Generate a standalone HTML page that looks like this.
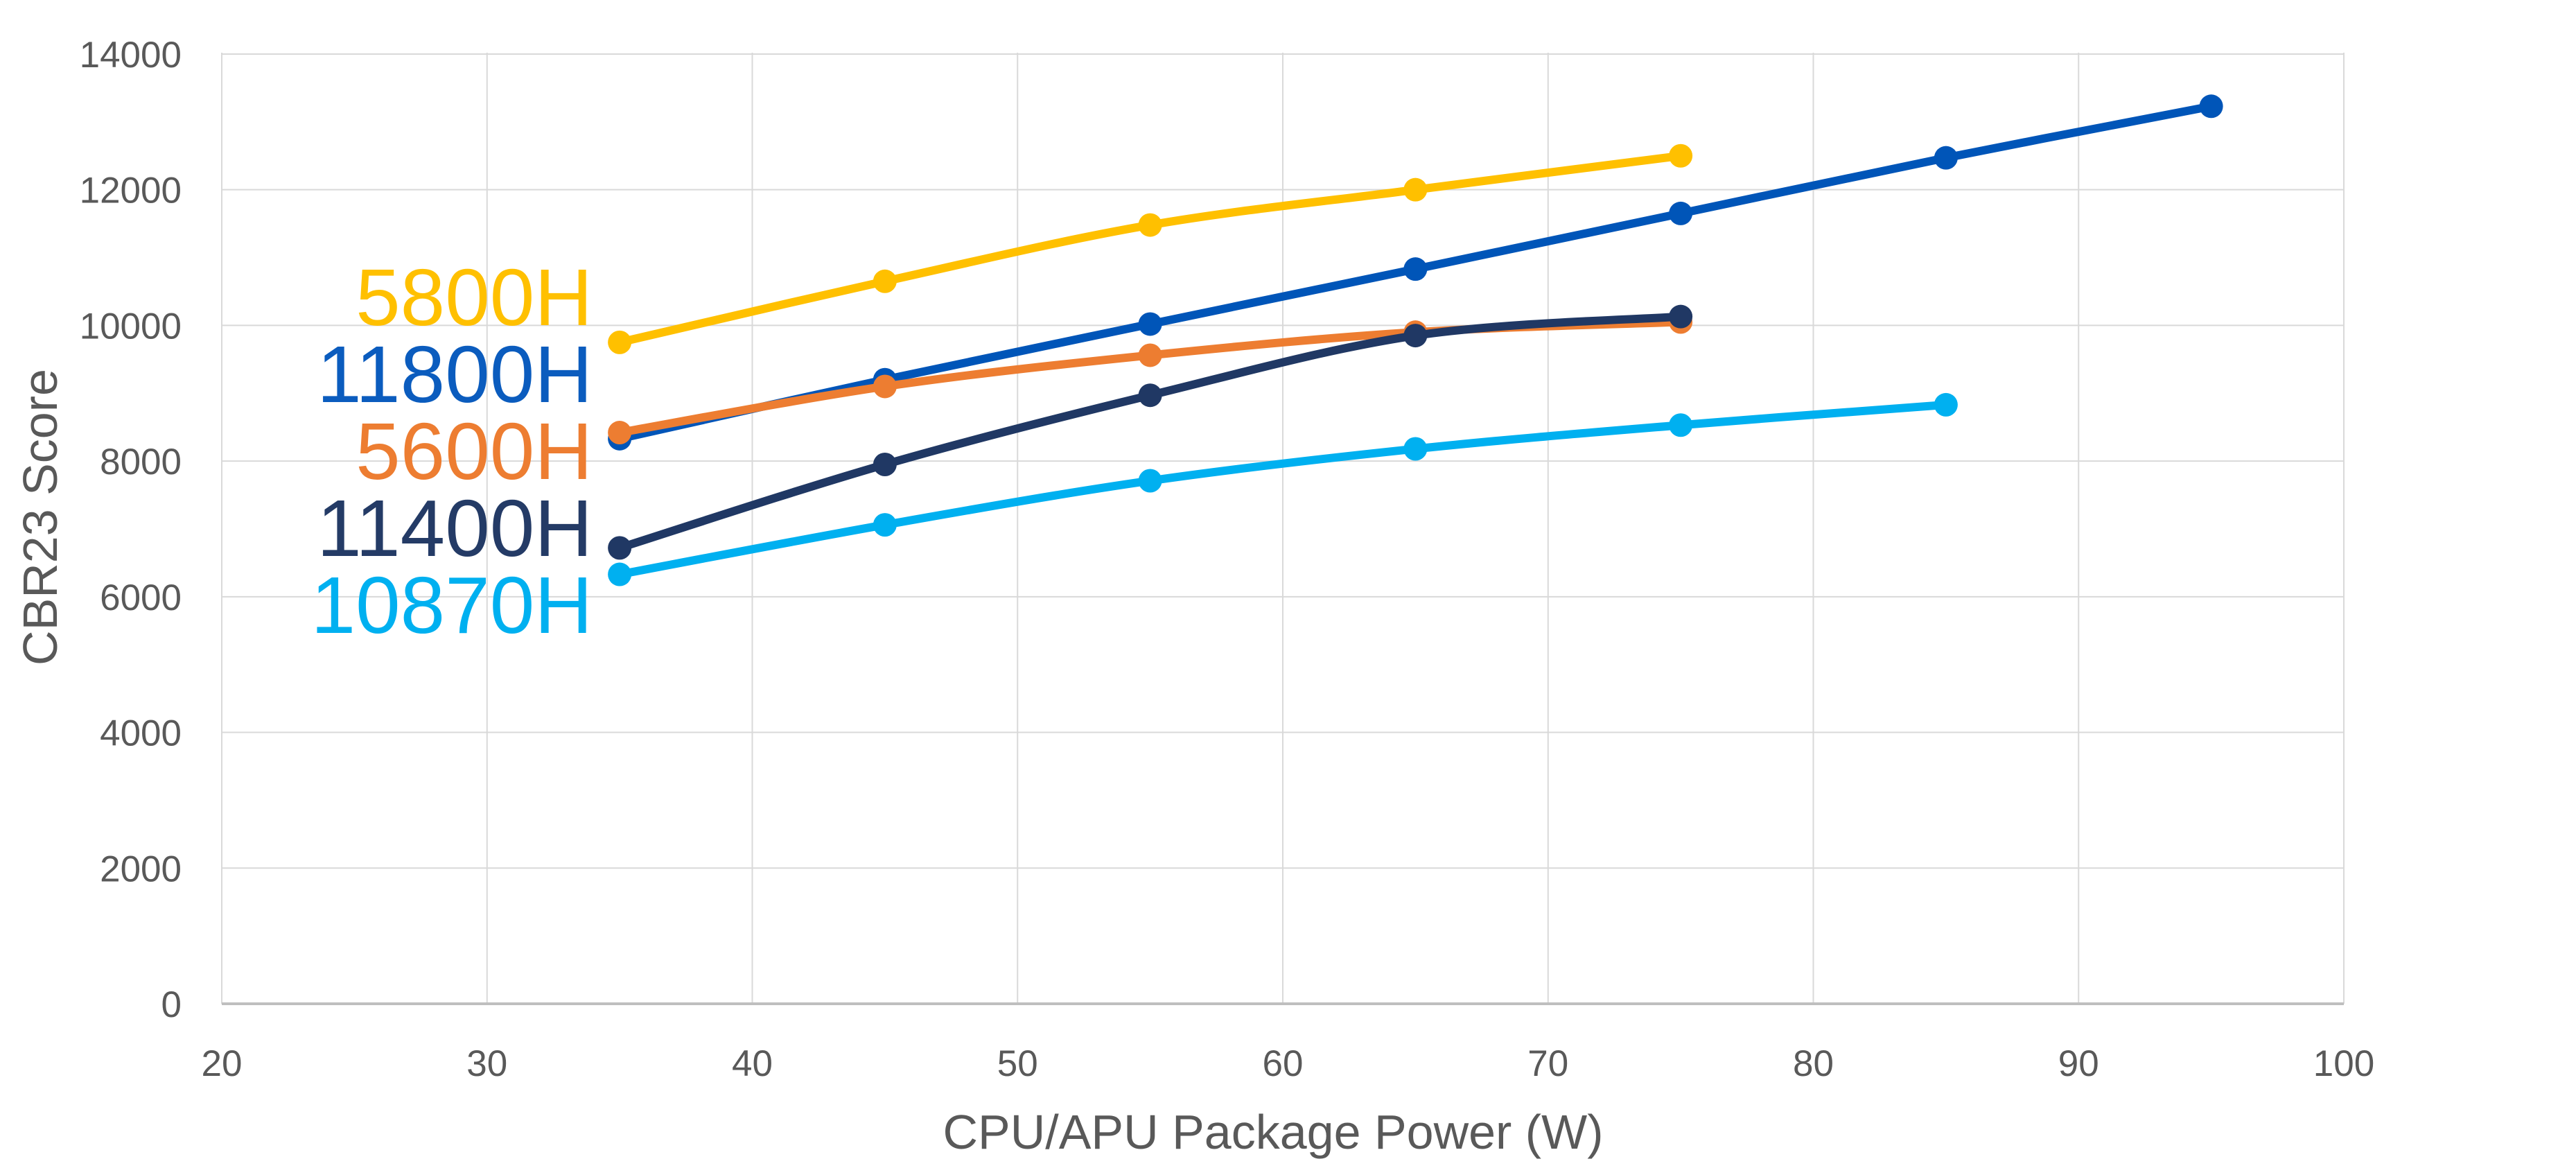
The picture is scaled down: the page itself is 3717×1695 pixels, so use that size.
<!DOCTYPE html>
<html><head><meta charset="utf-8"><style>
html,body{margin:0;padding:0;background:#fff;}
svg{display:block;}
</style></head><body>
<svg id="c" width="3717" height="1695" xmlns="http://www.w3.org/2000/svg" font-family="Liberation Sans, sans-serif">
<rect width="3717" height="1695" fill="#fff"/>
<g id="grid"></g>
<g id="series"></g>
<g font-size="53" fill="#595959" id="ticks"></g>
<text x="0" y="0" font-size="70" fill="#595959" text-anchor="middle" transform="translate(82,746) rotate(-90)">CBR23 Score</text>
<text x="1837" y="1657" font-size="70" fill="#595959" text-anchor="middle">CPU/APU Package Power (W)</text>
<g font-size="116" text-anchor="end">
<text x="855" y="469" fill="#FFC000">5800H</text>
<text x="855" y="580" fill="#0B5CBE">11800H</text>
<text x="855" y="691" fill="#ED7D31">5600H</text>
<text x="855" y="802" fill="#243B66">11400H</text>
<text x="855" y="913" fill="#00B0F0">10870H</text>
</g>
</svg>
<script>
var NS="http://www.w3.org/2000/svg";
function X(v){return 320+(v-20)*38.275;}
function Y(v){return 1448-v*0.09786;}
function el(t,a,p){var e=document.createElementNS(NS,t);for(var k in a)e.setAttribute(k,a[k]);p.appendChild(e);return e;}
var g=document.getElementById('grid'),tk=document.getElementById('ticks');
for(var v=0;v<=14000;v+=2000){
  if(v>0)el('line',{x1:320,x2:X(100),y1:Y(v),y2:Y(v),stroke:'#d9d9d9','stroke-width':2},g);
  var t=el('text',{x:262,y:Y(v)+19,'text-anchor':'end'},tk);t.textContent=v;
}
for(var x=20;x<=100;x+=10){
  el('line',{x1:X(x),x2:X(x),y1:76,y2:1448,stroke:'#d9d9d9','stroke-width':2},g);
  var t=el('text',{x:X(x),y:1552,'text-anchor':'middle'},tk);t.textContent=x;
}
el('line',{x1:320,x2:X(100),y1:1448,y2:1448,stroke:'#bfbfbf','stroke-width':4},g);
var S=[
 ['#0055B8',[[35,8330],[45,9200],[55,10020],[65,10830],[75,11650],[85,12470],[95,13230]]],
 ['#ED7D31',[[35,8420],[45,9100],[55,9560],[65,9900],[75,10050]]],
 ['#FFC000',[[35,9750],[45,10650],[55,11480],[65,12000],[75,12500]]],
 ['#203864',[[35,6720],[45,7950],[55,8970],[65,9850],[75,10130]]],
 ['#00B0F0',[[35,6330],[45,7060],[55,7710],[65,8180],[75,8530],[85,8830]]]
];
var sg=document.getElementById('series');
S.forEach(function(s){
  var p=s[1].map(function(q){return [X(q[0]),Y(q[1])];});
  var d='M'+p[0][0]+','+p[0][1];
  for(var i=0;i<p.length-1;i++){
    var p0=p[i-1]||p[i],p1=p[i],p2=p[i+1],p3=p[i+2]||p2;
    var c1=[p1[0]+(p2[0]-p0[0])/6,p1[1]+(p2[1]-p0[1])/6];
    var c2=[p2[0]-(p3[0]-p1[0])/6,p2[1]-(p3[1]-p1[1])/6];
    d+=' C'+c1+' '+c2+' '+p2;
  }
  el('path',{d:d,fill:'none',stroke:s[0],'stroke-width':12,'stroke-linejoin':'round'},sg);
  p.forEach(function(q){el('circle',{cx:q[0],cy:q[1],r:17,fill:s[0]},sg);});
});
</script>
</body></html>
